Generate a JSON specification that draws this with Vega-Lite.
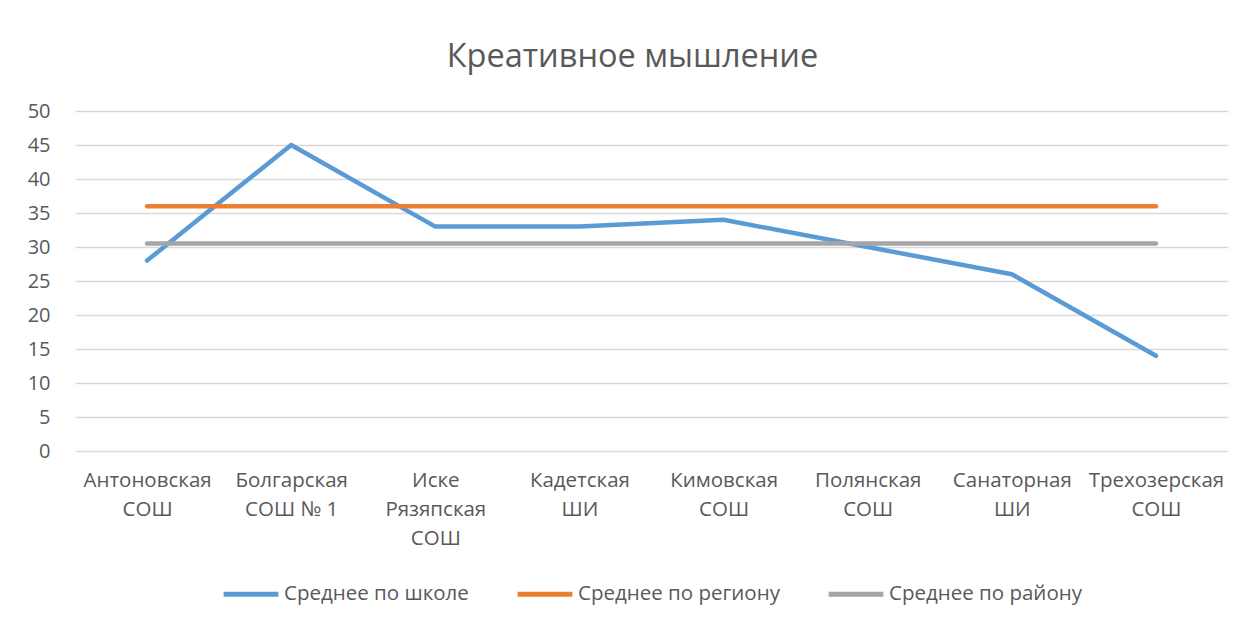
{
  "$schema": "https://vega.github.io/schema/vega-lite/v6.json",
  "width": 1153,
  "height": 340,
  "autosize": {"type": "none"},
  "padding": {"left": 75, "top": 111, "right": 15, "bottom": 174},
  "background": "white",
  "title": {"text": "Креативное мышление", "fontSize": 32.5, "font": "Open Sans", "fontWeight": "normal", "color": "#595959", "anchor": "middle", "dx": -19, "offset": 28},
  "data": {"values": [
    {"school": "Антоновская\nСОШ", "series": "Среднее по школе", "value": 28},
    {"school": "Болгарская\nСОШ № 1", "series": "Среднее по школе", "value": 45},
    {"school": "Иске\nРязяпская\nСОШ", "series": "Среднее по школе", "value": 33},
    {"school": "Кадетская\nШИ", "series": "Среднее по школе", "value": 33},
    {"school": "Кимовская\nСОШ", "series": "Среднее по школе", "value": 34},
    {"school": "Полянская\nСОШ", "series": "Среднее по школе", "value": 30},
    {"school": "Санаторная\nШИ", "series": "Среднее по школе", "value": 26},
    {"school": "Трехозерская\nСОШ", "series": "Среднее по школе", "value": 14},
    {"school": "Антоновская\nСОШ", "series": "Среднее по региону", "value": 36},
    {"school": "Болгарская\nСОШ № 1", "series": "Среднее по региону", "value": 36},
    {"school": "Иске\nРязяпская\nСОШ", "series": "Среднее по региону", "value": 36},
    {"school": "Кадетская\nШИ", "series": "Среднее по региону", "value": 36},
    {"school": "Кимовская\nСОШ", "series": "Среднее по региону", "value": 36},
    {"school": "Полянская\nСОШ", "series": "Среднее по региону", "value": 36},
    {"school": "Санаторная\nШИ", "series": "Среднее по региону", "value": 36},
    {"school": "Трехозерская\nСОШ", "series": "Среднее по региону", "value": 36},
    {"school": "Антоновская\nСОШ", "series": "Среднее по району", "value": 30.5},
    {"school": "Болгарская\nСОШ № 1", "series": "Среднее по району", "value": 30.5},
    {"school": "Иске\nРязяпская\nСОШ", "series": "Среднее по району", "value": 30.5},
    {"school": "Кадетская\nШИ", "series": "Среднее по району", "value": 30.5},
    {"school": "Кимовская\nСОШ", "series": "Среднее по району", "value": 30.5},
    {"school": "Полянская\nСОШ", "series": "Среднее по району", "value": 30.5},
    {"school": "Санаторная\nШИ", "series": "Среднее по району", "value": 30.5},
    {"school": "Трехозерская\nСОШ", "series": "Среднее по району", "value": 30.5}
  ]},
  "mark": {"type": "line", "strokeWidth": 4.5, "strokeCap": "round", "strokeJoin": "round"},
  "encoding": {
    "x": {
      "field": "school", "type": "nominal", "sort": null,
      "scale": {"type": "point", "padding": 0.5},
      "axis": {"title": null, "labelAngle": 0, "ticks": false, "domain": false, "grid": false,
        "labelExpr": "split(datum.label, '\\n')",
        "labelFont": "Open Sans", "labelFontSize": 20.5, "labelColor": "#595959", "labelLineHeight": 29,
        "labelPadding": 19, "labelBaseline": "top", "labelLimit": 300}
    },
    "y": {
      "field": "value", "type": "quantitative",
      "scale": {"domain": [0, 50], "nice": false},
      "axis": {"title": null, "values": [0, 5, 10, 15, 20, 25, 30, 35, 40, 45, 50], "ticks": false, "domain": false,
        "gridColor": "#D9D9D9", "gridWidth": 1.3,
        "labelFont": "Open Sans", "labelFontSize": 20, "labelColor": "#595959", "labelPadding": 25}
    },
    "color": {
      "field": "series", "type": "nominal",
      "scale": {"domain": ["Среднее по школе", "Среднее по региону", "Среднее по району"], "range": ["#5B9BD5", "#ED7D31", "#A5A5A5"]},
      "legend": {"orient": "bottom", "direction": "horizontal", "title": null,
        "symbolType": "stroke", "symbolStrokeWidth": 5, "symbolSize": 3000,
        "labelFont": "Open Sans", "labelFontSize": 20.5, "labelColor": "#595959", "labelLimit": 400,
        "columnPadding": 38, "labelOffset": 3, "offset": 15}
    }
  },
  "config": {"view": {"stroke": null}, "legend": {"layout": {"bottom": {"anchor": "middle"}}}}
}
